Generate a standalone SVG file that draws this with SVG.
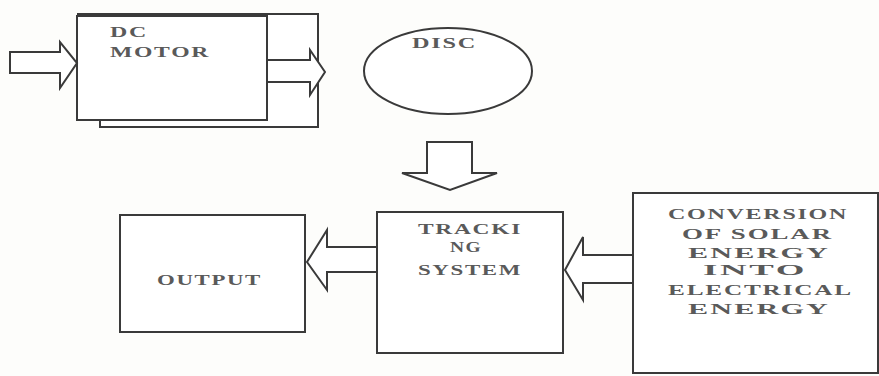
<svg xmlns="http://www.w3.org/2000/svg" width="879" height="376" viewBox="0 0 879 376">
  <style>
    .box { fill: #ffffff; stroke: #3a3a3a; stroke-width: 2; }
    .arrow { fill: #ffffff; stroke: #3a3a3a; stroke-width: 2; stroke-linejoin: miter; }
    .label { font-family: "Liberation Serif", "Times New Roman", serif; font-weight: bold; font-size: 14px; letter-spacing: 1px; fill: #5a5a5a; }
  </style>
  <rect width="879" height="376" fill="#fdfdfb"/>

  <g id="dc-motor">
    <!-- rear outline behind the motor block -->
    <polyline class="box" fill="none" points="77,14 318,14 318,127 100,127 100,120"/>
    <rect class="box" x="77" y="16" width="190" height="104"/>
    <text class="label" x="110" y="37" textLength="38" lengthAdjust="spacingAndGlyphs">DC</text>
    <text class="label" x="110" y="57" textLength="100" lengthAdjust="spacingAndGlyphs">MOTOR</text>
  </g>

  <g id="disc">
    <ellipse class="box" cx="448" cy="71" rx="84" ry="43"/>
    <text class="label" x="412" y="48" textLength="65" lengthAdjust="spacingAndGlyphs">DISC</text>
  </g>

  <g id="output">
    <rect class="box" x="120" y="215" width="185" height="117"/>
    <text class="label" x="157" y="285" textLength="105" lengthAdjust="spacingAndGlyphs">OUTPUT</text>
  </g>

  <g id="tracking-system">
    <rect class="box" x="377" y="212" width="186" height="141"/>
    <text class="label" x="418" y="234" textLength="104" lengthAdjust="spacingAndGlyphs">TRACKI</text>
    <text class="label" x="450" y="252" textLength="32" lengthAdjust="spacingAndGlyphs">NG</text>
    <text class="label" x="418" y="275" textLength="104" lengthAdjust="spacingAndGlyphs">SYSTEM</text>
  </g>

  <g id="solar-conversion">
    <rect class="box" x="633" y="193" width="245" height="180"/>
    <text class="label" x="668" y="219" textLength="180" lengthAdjust="spacingAndGlyphs">CONVERSION</text>
    <text class="label" x="682" y="239" textLength="151" lengthAdjust="spacingAndGlyphs">OF SOLAR</text>
    <text class="label" x="688" y="258" textLength="142" lengthAdjust="spacingAndGlyphs">ENERGY</text>
    <text class="label" x="703" y="275" textLength="104" lengthAdjust="spacingAndGlyphs">INTO</text>
    <text class="label" x="668" y="295" textLength="185" lengthAdjust="spacingAndGlyphs">ELECTRICAL</text>
    <text class="label" x="688" y="314" textLength="142" lengthAdjust="spacingAndGlyphs">ENERGY</text>
  </g>

  <g id="connectors">
    <!-- input into the motor -->
    <polygon class="arrow" points="10,52 60,52 60,42 77,63 60,88 60,73 10,73"/>
    <!-- motor output -->
    <polygon class="arrow" points="267,60 310,60 310,50 325,72 310,95 310,82 267,82"/>
    <!-- down into tracking -->
    <polygon class="arrow" points="427,142 472,142 472,173 497,173 450,190 402,173 427,173"/>
    <!-- tracking to output -->
    <polygon class="arrow" points="377,247 327,247 327,230 307,262 327,290 327,272 377,272"/>
    <!-- conversion to tracking -->
    <polygon class="arrow" points="633,255 583,255 583,237 565,270 583,300 583,283 633,283"/>
  </g>
</svg>
